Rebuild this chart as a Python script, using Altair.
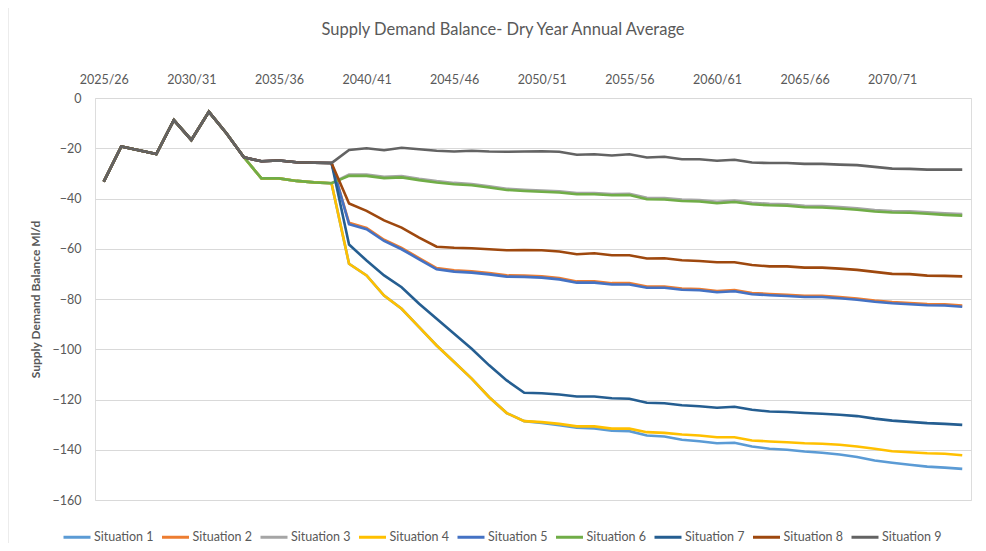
import altair as alt
import pandas as pd

years = ["2025/26", "2026/27", "2027/28", "2028/29", "2029/30", "2030/31", "2031/32", "2032/33",
         "2033/34", "2034/35", "2035/36", "2036/37", "2037/38", "2038/39", "2039/40", "2040/41",
         "2041/42", "2042/43", "2043/44", "2044/45", "2045/46", "2046/47", "2047/48", "2048/49",
         "2049/50", "2050/51", "2051/52", "2052/53", "2053/54", "2054/55", "2055/56", "2056/57",
         "2057/58", "2058/59", "2059/60", "2060/61", "2061/62", "2062/63", "2063/64", "2064/65",
         "2065/66", "2066/67", "2067/68", "2068/69", "2069/70", "2070/71", "2071/72", "2072/73",
         "2073/74", "2074/75"]
year_ticks = ["2025/26", "2030/31", "2035/36", "2040/41", "2045/46", "2050/51", "2055/56",
              "2060/61", "2065/66", "2070/71"]

common = [-33.3, -19.3, -20.8, -22.3, -8.8, -16.7, -5.5, -14.0, -23.6]
early_b = [-25.2, -24.9, -25.6, -25.8, -25.9]
early_a = [-32.0, -32.0, -33.0, -33.6, -33.9]

sit1 = common + early_a + [-66.0, -70.6, -78.6, -83.9, -91.2, -98.5, -105.1, -111.7, -119.1, -125.4,
                           -128.6, -129.3, -130.2, -131.2, -131.5, -132.4, -132.6, -134.3, -134.7, -136.0,
                           -136.6, -137.4, -137.2, -138.7, -139.6, -140.0, -140.7, -141.2, -141.9, -142.9,
                           -144.3, -145.2, -146.0, -146.7, -147.1, -147.6]
sit2 = common + early_b + [-49.7, -51.7, -56.4, -59.7, -63.7, -67.7, -68.6, -69.0, -69.7, -70.6,
                           -70.7, -71.0, -71.7, -73.0, -73.0, -73.7, -73.7, -75.0, -75.0, -75.8,
                           -76.0, -76.8, -76.4, -77.6, -78.0, -78.3, -78.7, -78.7, -79.2, -79.8,
                           -80.6, -81.2, -81.6, -82.0, -82.1, -82.6]
sit3 = common + early_a + [-30.5, -30.5, -31.4, -31.1, -32.2, -33.1, -33.8, -34.2, -35.1, -36.1,
                           -36.5, -36.8, -37.1, -37.8, -37.8, -38.2, -38.1, -39.7, -39.8, -40.4,
                           -40.6, -41.3, -40.8, -41.7, -42.1, -42.3, -42.9, -43.0, -43.4, -43.9,
                           -44.6, -45.0, -45.1, -45.5, -45.9, -46.2]
sit4 = common + early_a + [-66.0, -70.6, -78.6, -83.9, -91.2, -98.5, -105.1, -111.7, -119.1, -125.4,
                           -128.6, -129.0, -129.7, -130.7, -130.7, -131.6, -131.6, -133.0, -133.3, -133.9,
                           -134.3, -135.0, -135.0, -136.3, -136.7, -137.0, -137.4, -137.6, -138.0, -138.7,
                           -139.6, -140.6, -141.0, -141.4, -141.6, -142.2]
sit5 = common + early_b + [-50.2, -52.2, -56.9, -60.2, -64.2, -68.2, -69.1, -69.5, -70.2, -71.1,
                           -71.2, -71.5, -72.2, -73.5, -73.5, -74.2, -74.2, -75.5, -75.5, -76.3,
                           -76.5, -77.3, -76.9, -78.1, -78.5, -78.8, -79.2, -79.2, -79.7, -80.3,
                           -81.1, -81.7, -82.1, -82.5, -82.6, -83.1]
sit6 = common + early_a + [-31.0, -31.0, -31.9, -31.6, -32.7, -33.6, -34.3, -34.7, -35.6, -36.6,
                           -37.0, -37.3, -37.6, -38.3, -38.3, -38.7, -38.6, -40.3, -40.4, -41.0,
                           -41.2, -41.9, -41.4, -42.3, -42.7, -42.9, -43.5, -43.6, -44.0, -44.5,
                           -45.2, -45.6, -45.7, -46.1, -46.5, -46.8]
sit7 = common + early_b + [-58.3, -64.7, -70.6, -75.3, -81.9, -87.9, -93.8, -99.8, -106.4, -112.4,
                           -117.3, -117.5, -118.0, -118.8, -118.8, -119.5, -119.7, -121.3, -121.5, -122.3,
                           -122.7, -123.3, -122.9, -124.1, -124.8, -125.0, -125.4, -125.7, -126.1, -126.6,
                           -127.6, -128.4, -128.9, -129.4, -129.7, -130.1]
sit8 = common + early_b + [-42.0, -44.9, -48.7, -51.6, -55.6, -59.2, -59.6, -59.8, -60.2, -60.6,
                           -60.5, -60.6, -61.1, -62.2, -61.8, -62.6, -62.6, -63.9, -63.8, -64.6,
                           -64.9, -65.4, -65.4, -66.5, -67.0, -67.0, -67.5, -67.5, -67.9, -68.4,
                           -69.2, -70.0, -70.1, -70.7, -70.8, -71.0]
sit9 = common + early_b + [-20.7, -20.0, -20.8, -19.8, -20.4, -21.0, -21.3, -21.0, -21.3, -21.4,
                           -21.3, -21.2, -21.4, -22.6, -22.4, -22.9, -22.4, -23.7, -23.4, -24.4,
                           -24.4, -25.0, -24.6, -25.7, -25.9, -25.9, -26.2, -26.2, -26.5, -26.7,
                           -27.4, -28.1, -28.2, -28.5, -28.5, -28.5]

situations = ["Situation 1", "Situation 2", "Situation 3", "Situation 4", "Situation 5",
              "Situation 6", "Situation 7", "Situation 8", "Situation 9"]
series = [sit1, sit2, sit3, sit4, sit5, sit6, sit7, sit8, sit9]
colors = ["#5B9BD5", "#ED7D31", "#A5A5A5", "#FFC000", "#4472C4", "#70AD47", "#255E91",
          "#9E480E", "#636363"]
y_ticks = [-160, -140, -120, -100, -80, -60, -40, -20, 0]
chart_title = "Supply Demand Balance- Dry Year Annual Average"

rows = []
for name, vals in zip(situations, series):
    for yr, v in zip(years, vals):
        rows.append({"year": yr, "value": v, "situation": name})
df = pd.DataFrame(rows)

FONT = "Lato"
TXT = "#595959"

lines = alt.Chart(df).mark_line(strokeWidth=2.6).encode(
    x=alt.X("year:O", sort=years,
            scale=alt.Scale(type="point", padding=0.5, domain=years),
            axis=alt.Axis(orient="top", values=year_ticks, labelAngle=0, ticks=False,
                          domain=False, grid=False, labelPadding=12, labelFontSize=12.5,
                          labelColor=TXT, labelFont=FONT),
            title=None),
    y=alt.Y("value:Q", scale=alt.Scale(domain=[-160, 0], nice=False),
            axis=alt.Axis(values=y_ticks, ticks=False, domain=False, grid=True,
                          gridColor="#D9D9D9", gridWidth=1, labelPadding=14,
                          labelFontSize=12.5, labelColor=TXT, labelFont=FONT,
                          titleFontSize=12, titleColor=TXT, titleFont=FONT,
                          titleFontWeight="bold", titlePadding=10),
            title="Supply Demand Balance Ml/d"),
    color=alt.Color("situation:N", sort=situations,
                    scale=alt.Scale(domain=situations, range=colors),
                    legend=alt.Legend(title=None, orient="none", legendX=-33, legendY=424,
                                      direction="horizontal", columns=9, symbolType="stroke",
                                      symbolSize=729, symbolStrokeWidth=3, labelFontSize=12.5,
                                      labelColor=TXT, labelFont=FONT, labelOffset=2,
                                      columnPadding=1.5, padding=0)),
)

frame = alt.Chart(alt.Data(values=[{"a": 1}])).mark_rect(
    fillOpacity=0, stroke="#D9D9D9", strokeWidth=1
).encode(
    x=alt.value(-87), x2=alt.value(900), y=alt.value(-91), y2=alt.value(470)
)

title_text = alt.Chart(alt.Data(values=[{"t": chart_title}])).mark_text(
    font=FONT, fontSize=16.5, color=TXT, align="center", baseline="middle"
).encode(
    text="t:N", x=alt.value(408), y=alt.value(-68)
)

chart = alt.layer(frame, lines, title_text).properties(
    width=876,
    height=402,
    autosize=alt.AutoSizeParams(type="none"),
    padding={"left": 87, "top": 90, "right": 7, "bottom": 43},
).configure_view(stroke=None).configure(background="white")

chart.save("out.html", embed_options={"renderer": "svg", "actions": False})
